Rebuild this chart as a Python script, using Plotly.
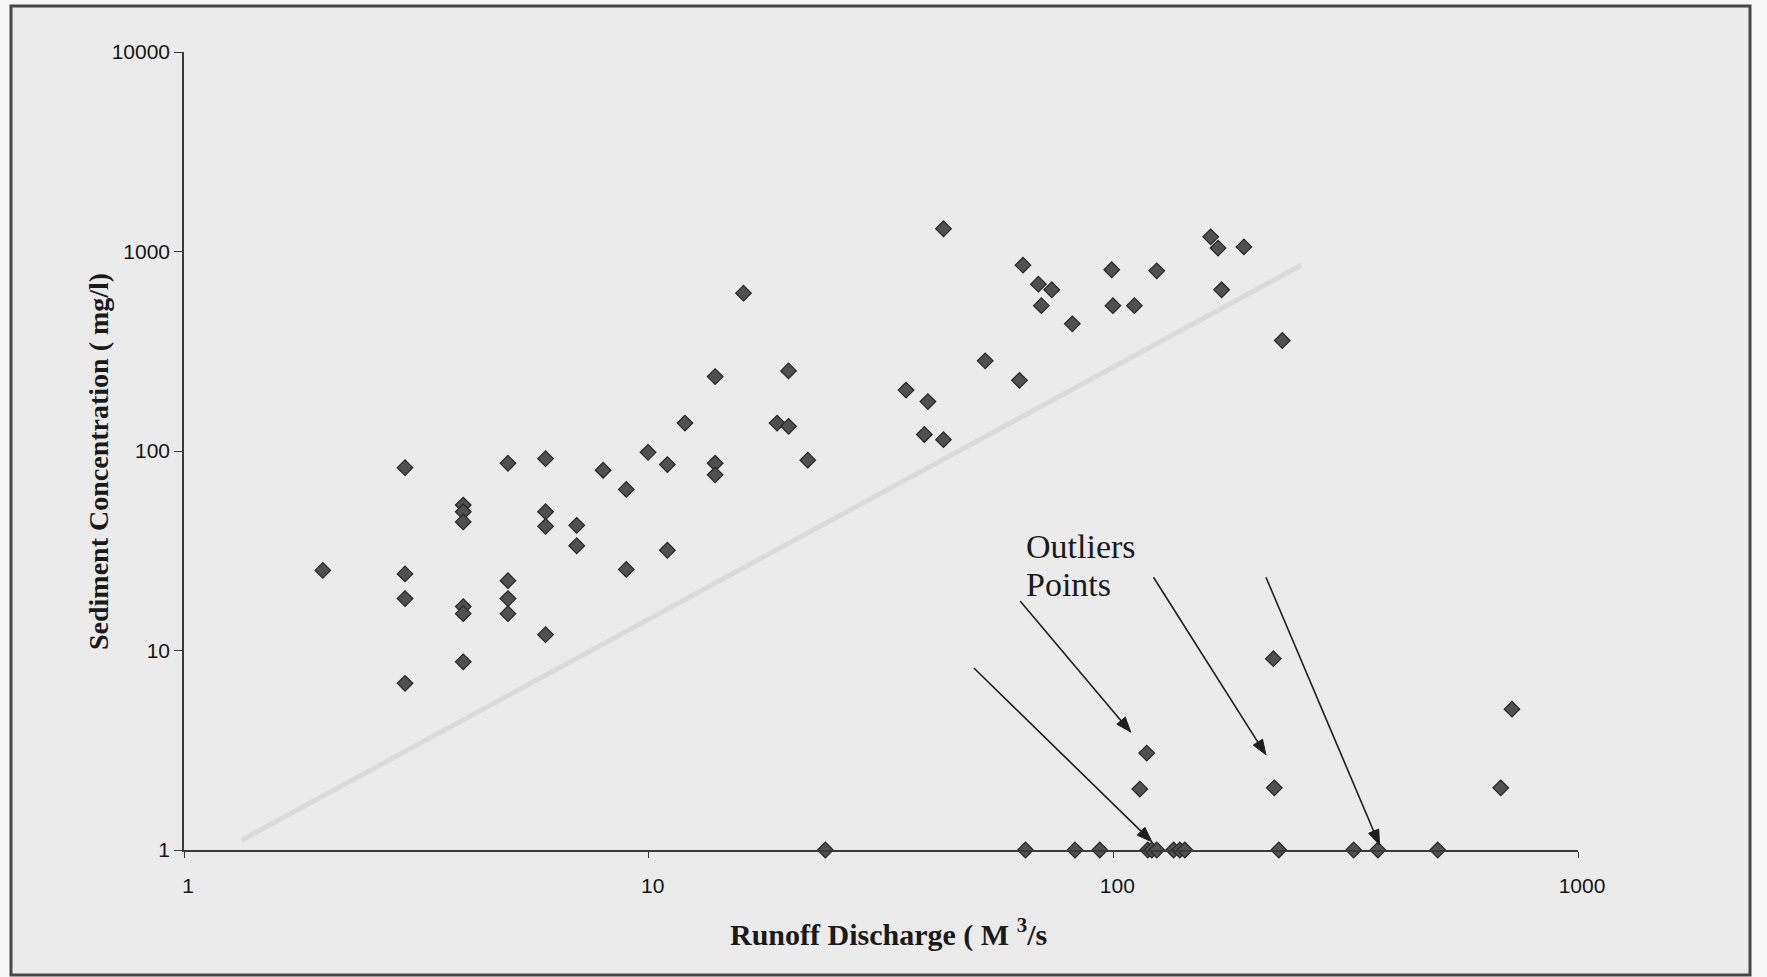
import numpy as np
import plotly.graph_objects as go

# ---------------- data ----------------
discharge = [1.99, 2.99, 2.99, 2.99, 2.99, 3.99, 3.99, 3.99, 3.99, 3.99, 3.99,
             4.98, 4.98, 4.98, 4.98, 6.0, 6.0, 6.0, 6.0, 7.0, 7.0, 7.98, 8.95, 8.95,
             9.97, 10.97, 10.97, 11.97, 13.9, 13.9, 13.9, 16.0, 18.9, 20.0, 20.0, 22.0,
             35.8, 39.9, 39.2, 43.1, 43.1, 53.0, 62.8, 63.9, 69.0, 73.7, 70.0, 81.6,
             99.2, 99.8, 111, 124, 162, 168, 191, 171, 231,
             118, 114, 221, 222, 721, 682,
             24, 64.7, 82.7, 93.5, 118.6, 121, 124, 134.8, 139, 142.5, 227, 329, 371, 499]
concentration = [25.2, 82.5, 24.2, 18.2, 6.85, 53.6, 49.6, 44.1, 16.6, 15.3, 8.77,
                 86.8, 22.4, 18.2, 15.3, 91.5, 49.6, 41.9, 12.0, 42.4, 33.5, 80.1, 64.2, 25.5,
                 98.5, 85.5, 31.8, 138, 236, 86.8, 76.0, 618, 138, 133, 252, 90,
                 202, 177, 121, 114, 1300, 283, 226, 854, 686, 643, 535, 434,
                 810, 535, 535, 800, 1184, 1040, 1054, 643, 358,
                 3.06, 2.02, 9.1, 2.05, 5.08, 2.05,
                 1, 1, 1, 1, 1, 1, 1, 1, 1, 1, 1, 1, 1, 1]

# faint trend line seen behind the points
trend_x = [1.33, 254]
trend_y = [1.12, 855]

# outlier arrows in data units
arrow_tail_x = [50.1, 63.0, 122, 213]
arrow_tail_y = [8.17, 17.7, 23.3, 23.3]
arrow_head_x = [121, 109, 213, 374]
arrow_head_y = [1.1, 3.9, 3.0, 1.06]

label_lines = ["Outliers", "Points"]
label_x = 64.3
label_y = [33.4, 21.5]

x_ticks = [1, 10, 100, 1000]
y_ticks = [1, 10, 100, 1000, 10000]
x_range_log = [0, 3]
y_range_log = [0, 4]

x_title = "<b>Runoff Discharge ( M <sup>3</sup>/s</b>"
y_title = "<b>Sediment Concentration ( mg/l)</b>"

# ---------------- layout geometry ----------------
W, H = 1767, 977
L, R, T, B = 184, 189, 52, 127
PW, PH = W - L - R, H - T - B


def px(xp):
    return (xp - L) / PW


def py(yp):
    return (H - B - yp) / PH


def xpix(v):
    return L + PW * (np.log10(v) - x_range_log[0]) / (x_range_log[1] - x_range_log[0])


def ypix(v):
    return T + PH * (1 - (np.log10(v) - y_range_log[0]) / (y_range_log[1] - y_range_log[0]))


fig = go.Figure()

fig.add_trace(go.Scatter(
    x=trend_x, y=trend_y, mode="lines",
    line=dict(color="#dadada", width=5),
    hoverinfo="skip", showlegend=False))

fig.add_trace(go.Scatter(
    x=discharge, y=concentration, mode="markers",
    marker=dict(symbol="diamond", size=12, color="#505050",
                line=dict(color="#262626", width=1.2)),
    cliponaxis=False, showlegend=False))

shapes = [dict(type="rect", xref="paper", yref="paper",
               x0=px(11), x1=px(1750), y0=py(975), y1=py(6),
               fillcolor="#ebebeb", line=dict(color="#474747", width=3),
               layer="below")]

head_len, head_half = 15.0, 5.5
for tx, ty, hx, hy in zip(arrow_tail_x, arrow_tail_y, arrow_head_x, arrow_head_y):
    x0, y0 = xpix(tx), ypix(ty)
    x1, y1 = xpix(hx), ypix(hy)
    dx, dy = x1 - x0, y1 - y0
    n = np.hypot(dx, dy)
    ux, uy = dx / n, dy / n
    bx, by = x1 - ux * head_len, y1 - uy * head_len
    shapes.append(dict(type="line", xref="paper", yref="paper",
                       x0=px(x0), y0=py(y0), x1=px(bx + ux * 2), y1=py(by + uy * 2),
                       line=dict(color="#1e1e1e", width=1.6)))
    lx, ly = bx - uy * head_half, by + ux * head_half
    rx, ry = bx + uy * head_half, by - ux * head_half
    path = (f"M {px(x1):.5f},{py(y1):.5f} L {px(lx):.5f},{py(ly):.5f} "
            f"L {px(rx):.5f},{py(ry):.5f} Z")
    shapes.append(dict(type="path", xref="paper", yref="paper", path=path,
                       fillcolor="#1e1e1e", line=dict(color="#1e1e1e", width=1)))

annotations = []
for txt, ly_ in zip(label_lines, label_y):
    annotations.append(dict(
        x=np.log10(label_x), y=np.log10(ly_), xref="x", yref="y",
        text=txt, showarrow=False, xanchor="left", yanchor="middle",
        font=dict(family="Liberation Serif", size=34, color="#1a1a1a")))

annotations.append(dict(
    x=px(98), y=py(462), xref="paper", yref="paper",
    text=y_title, textangle=-90,
    showarrow=False, xanchor="center", yanchor="middle",
    font=dict(family="Liberation Serif", size=28, color="#1a1a1a")))
annotations.append(dict(
    x=px(888), y=py(933), xref="paper", yref="paper",
    text=x_title,
    showarrow=False, xanchor="center", yanchor="middle",
    font=dict(family="Liberation Serif", size=30, color="#1a1a1a")))

fig.update_layout(
    width=W, height=H,
    margin=dict(l=L, r=R, t=T, b=B),
    paper_bgcolor="#f6f6f6", plot_bgcolor="rgba(0,0,0,0)",
    showlegend=False,
    annotations=annotations, shapes=shapes,
    xaxis=dict(type="log", range=x_range_log, tickvals=x_ticks,
               ticktext=[str(v) for v in x_ticks],
               showgrid=False, zeroline=False, showline=True,
               linecolor="#3a3a3a", linewidth=1.5,
               ticks="outside", ticklen=6, tickcolor="#3a3a3a",
               ticklabelstandoff=10, ticklabelshift=4,
               tickfont=dict(family="Liberation Sans", size=21, color="#151515")),
    yaxis=dict(type="log", range=y_range_log, tickvals=y_ticks,
               ticktext=[str(v) for v in y_ticks],
               showgrid=False, zeroline=False, showline=True,
               linecolor="#3a3a3a", linewidth=1.5,
               ticks="outside", ticklen=8, tickcolor="#3a3a3a",
               ticklabelstandoff=0,
               tickfont=dict(family="Liberation Sans", size=21, color="#151515")),
)

fig.write_html("out.html")
